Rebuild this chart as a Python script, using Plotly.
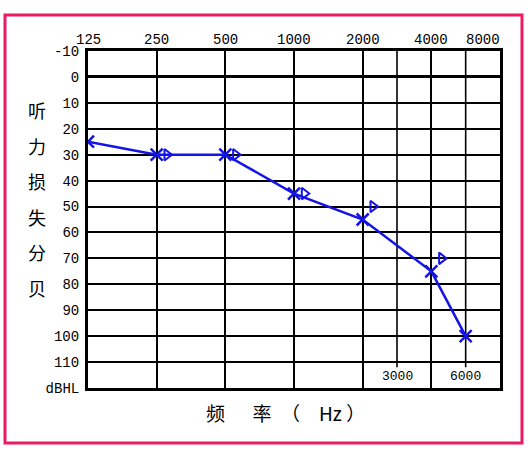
import plotly.graph_objects as go

# Audiogram frequency scale (half-octave steps for 3000/6000)
axis_freqs = [125, 250, 500, 1000, 2000, 3000, 4000, 6000, 8000]
axis_pos = [0, 1, 2, 3, 4, 4.5, 5, 5.5, 6]
pos_of = dict(zip(axis_freqs, axis_pos))

top_freqs = [125, 250, 500, 1000, 2000, 4000, 8000]
bottom_freqs = [3000, 6000]

# Air conduction (X)
air_freqs = [125, 250, 500, 1000, 2000, 4000, 6000]
air_db = [25, 30, 30, 45, 55, 75, 100]

# Bone conduction (>)
bone_freqs = [250, 500, 1000, 2000, 4000]
bone_db = [30, 30, 45, 50, 70]

db_ticks = [-10, 0, 10, 20, 30, 40, 50, 60, 70, 80, 90, 100, 110, 120]
db_labels = ["-10", "0", "10", "20", "30", "40", "50", "60", "70", "80", "90", "100", "110", "dBHL"]

y_title_chars = ["听", "力", "损", "失", "分", "贝"]
NB = "\u00a0"
x_title = "频" + "　" + NB * 2 + "率" + "　" + "（" + "　" + "Hz" + NB + "）"

W, H = 528, 456
ML, MR, MT, MB = 88, 28, 51, 68
PW, PH = W - ML - MR, H - MT - MB

def px_x(px):
    return (px - ML) / PW

def px_y(py):
    return (H - MB - py) / PH

BLUE = "#1414e6"
MONO = "Liberation Mono"
TXT = "#000"
bone_shift = 0.15

fig = go.Figure()

fig.add_trace(go.Scatter(
    x=[pos_of[f] for f in air_freqs], y=air_db,
    mode="lines+markers",
    line=dict(color=BLUE, width=2.5),
    marker=dict(symbol="x-thin-open", size=12, line=dict(color=BLUE, width=2.5), color=BLUE),
    showlegend=False, hoverinfo="skip",
))

fig.add_trace(go.Scatter(
    x=[pos_of[f] + bone_shift for f in bone_freqs], y=bone_db,
    mode="markers",
    marker=dict(symbol="triangle-right-open", size=10, line=dict(color=BLUE, width=2), color=BLUE),
    showlegend=False, hoverinfo="skip",
))

# partial half-octave grid lines with their labels in the bottom row
for f in bottom_freqs:
    fig.add_shape(type="line", xref="x", yref="y", x0=pos_of[f], x1=pos_of[f],
                  y0=-10, y1=112, line=dict(color="black", width=1.6), layer="below")
    fig.add_annotation(x=pos_of[f], y=115.5, xref="x", yref="y", text=str(f),
                       showarrow=False, xanchor="center", yanchor="middle",
                       font=dict(family=MONO, size=13, color=TXT))

# top frequency labels (last one right-aligned at the edge, as in the reference)
for f in top_freqs:
    last = f == top_freqs[-1]
    fig.add_annotation(x=pos_of[f], y=px_y(40), xref="x", yref="paper", text=str(f),
                       showarrow=False, xanchor="right" if last else "center",
                       yanchor="middle", xshift=2 if last else 0,
                       font=dict(family=MONO, size=14, color=TXT))

# y title characters
for i, ch in enumerate(y_title_chars):
    fig.add_annotation(x=px_x(37), y=px_y(110 + i * 35.5), xref="paper", yref="paper",
                       text=ch, showarrow=False, xanchor="center", yanchor="middle",
                       font=dict(family="Noto Sans CJK SC", size=18, color=TXT))

# x title
fig.add_annotation(x=px_x(285), y=px_y(412), xref="paper", yref="paper",
                   text=x_title, showarrow=False, xanchor="center", yanchor="middle",
                   font=dict(family="Noto Sans CJK SC", size=19, color=TXT))

# pink outer border
fig.add_shape(type="rect", xref="paper", yref="paper",
              x0=px_x(5), x1=px_x(522), y0=px_y(443), y1=px_y(15),
              line=dict(color="#ea1a65", width=3))

fig.update_layout(
    width=W, height=H,
    margin=dict(l=ML, r=MR, t=MT, b=MB),
    paper_bgcolor="white", plot_bgcolor="white",
    xaxis=dict(
        range=[0, 6], side="top",
        tickvals=[pos_of[f] for f in axis_freqs if f not in bottom_freqs],
        showticklabels=False, ticks="",
        showgrid=True, gridcolor="black", gridwidth=1.6,
        showline=True, linecolor="black", linewidth=3, mirror=True,
        zeroline=False, fixedrange=True,
    ),
    yaxis=dict(
        range=[120, -10],
        tickvals=db_ticks, ticktext=db_labels,
        tickfont=dict(family=MONO, size=14, color=TXT),
        ticks="", ticklabelstandoff=3,
        showgrid=True, gridcolor="black", gridwidth=1.6,
        zeroline=True, zerolinecolor="black", zerolinewidth=3,
        showline=True, linecolor="black", linewidth=3, mirror=True,
        fixedrange=True,
    ),
)

fig.write_html("out.html", config={"displayModeBar": False},
               post_script="document.body.style.margin='0';")
